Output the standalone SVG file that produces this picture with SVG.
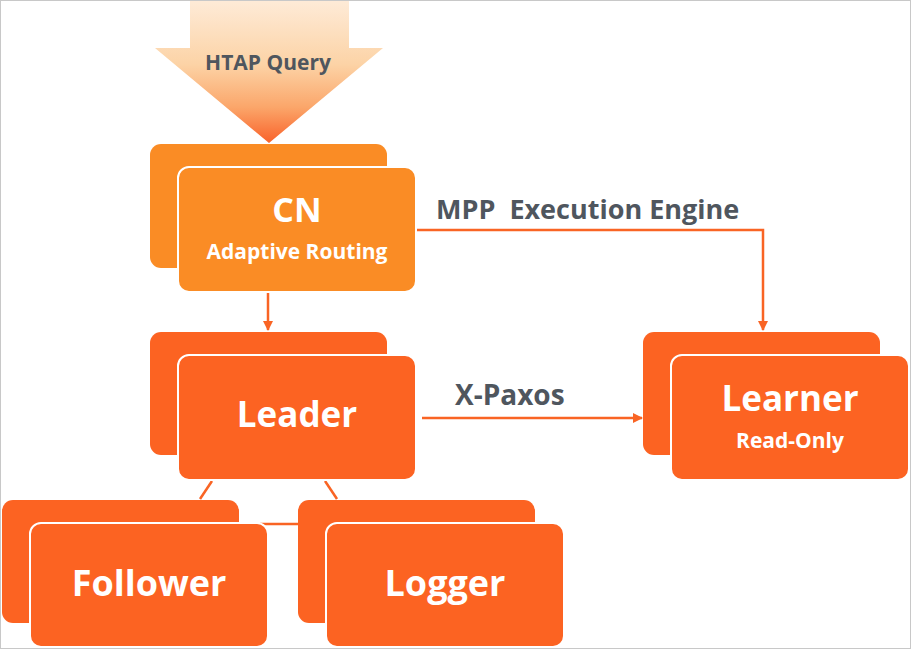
<svg xmlns="http://www.w3.org/2000/svg" width="912" height="650" viewBox="0 0 912 650">
<defs>
<linearGradient id="g" x1="0" y1="0" x2="0" y2="1">
<stop offset="0" stop-color="#FEEBD8"/>
<stop offset="0.45" stop-color="#FCD3A6"/>
<stop offset="0.75" stop-color="#FBA66A"/>
<stop offset="1" stop-color="#F9622A"/>
</linearGradient>
<marker id="ah" markerWidth="10" markerHeight="10" refX="9" refY="5" orient="auto" markerUnits="userSpaceOnUse">
<path d="M0,0 L10,5 L0,10 z" fill="#F96424"/>
</marker>
<style>
.b{fill:#FC6322}
.f{fill:#FC6322;stroke:#fff;stroke-width:2}
.cb{fill:#FA8C25}
.cf{fill:#FA8C25;stroke:#fff;stroke-width:2}
.t{font-family:"Open Sans","Noto Sans",sans-serif;font-weight:bold;fill:#fff;text-anchor:middle}
.l{font-family:"Open Sans","Noto Sans",sans-serif;font-weight:bold;fill:#4F565E;white-space:pre}
.c{stroke:#F96424;stroke-width:2.5;fill:none}
</style>
</defs>
<rect width="912" height="650" fill="#fff"/>
<g id="htap">
<path d="M190,0 H349 V48 H383 L269,143 L155,48 H190 z" fill="url(#g)"/>
<text class="l" x="268" y="70" font-size="21" text-anchor="middle">HTAP Query</text>
</g>
<g id="connectors">
<line class="c" x1="268" y1="293" x2="268" y2="330" marker-end="url(#ah)"/>
<polyline class="c" points="417,230 763,230 763,330" marker-end="url(#ah)"/>
<line class="c" x1="422" y1="418" x2="642" y2="418" marker-end="url(#ah)"/>
<line class="c" x1="212" y1="481" x2="200" y2="499" stroke-width="2"/>
<line class="c" x1="325" y1="481" x2="337" y2="499" stroke-width="2"/>
<line class="c" x1="260" y1="524" x2="300" y2="524" stroke-width="2"/>
<text class="l" x="436" y="219" font-size="27" xml:space="preserve">MPP  Execution Engine</text>
<text class="l" x="455" y="405" font-size="28">X-Paxos</text>
</g>
<g id="cn">
<rect class="cb" x="150" y="144" width="237" height="124" rx="11"/>
<rect class="cf" x="178" y="167" width="238" height="125" rx="11"/>
<text class="t" x="297" y="222" font-size="34">CN</text>
<text class="t" x="297" y="259" font-size="21">Adaptive Routing</text>
</g>
<g id="leader">
<rect class="b" x="150" y="332" width="237" height="123" rx="11"/>
<rect class="f" x="178" y="355" width="238" height="125" rx="11"/>
<text class="t" x="297" y="427" font-size="35">Leader</text>
</g>
<g id="learner">
<rect class="b" x="643" y="332" width="237" height="123" rx="11"/>
<rect class="f" x="671" y="355" width="238" height="125" rx="11"/>
<text class="t" x="790" y="411" font-size="35">Learner</text>
<text class="t" x="790" y="448" font-size="21">Read-Only</text>
</g>
<g id="follower">
<rect class="b" x="2" y="500" width="237" height="123" rx="11"/>
<rect class="f" x="30" y="523" width="238" height="124" rx="11"/>
<text class="t" x="149" y="596" font-size="36">Follower</text>
</g>
<g id="logger">
<rect class="b" x="298" y="500" width="237" height="123" rx="11"/>
<rect class="f" x="326" y="523" width="238" height="124" rx="11"/>
<text class="t" x="445" y="596" font-size="36">Logger</text>
</g>
<rect x="0.5" y="0.5" width="910" height="648" fill="none" stroke="#C8C8C8"/>
</svg>
